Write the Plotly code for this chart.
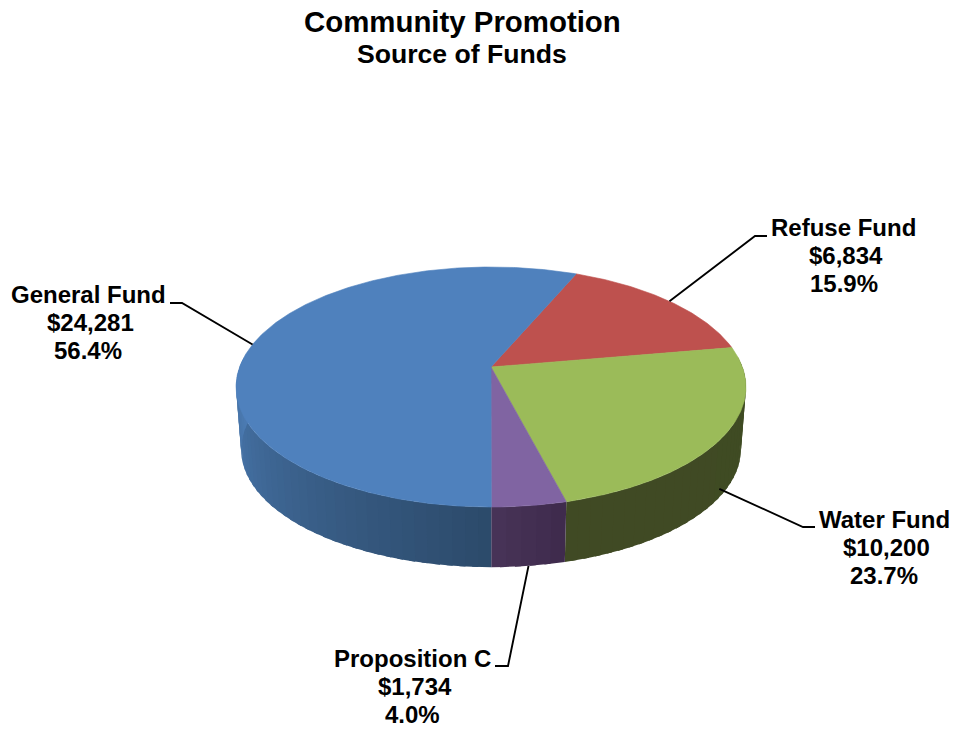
import math
import plotly.graph_objects as go

# Source-of-funds data, in pie order (clockwise from the first slice angle)
categories = ["Refuse Fund", "Water Fund", "Proposition C", "General Fund"]
amounts = [6834, 10200, 1734, 24281]
top_colors = ["#BE514E", "#9BBB59", "#8064A2", "#4F81BD"]

# Side wall shade at each end of a slice's visible arc
wall_colors = [
    ((110, 50, 48), (110, 50, 48)),
    ((63, 75, 35), (64, 74, 36)),
    ((62, 42, 76), (72, 52, 88)),
    ((44, 74, 106), (76, 124, 180)),
]

# Pie projection parameters, in page pixels
CX, CY = 491, 367
A, B, K = 251.4, 116.67, 1 / 6
WALL_DROP, WALL_SCALE = 63, 0.98
FIRST_ANGLE = 23.0

FONT = "Liberation Sans"
LABEL_SIZE = 24
INK = "#000000"


def project(theta_deg, lower=False):
    """Map a rim angle (clockwise from the back of the disc) to page pixels."""
    t = math.radians(theta_deg)
    x, y = math.sin(t), math.cos(t)
    w = 1 + K * y
    s = WALL_SCALE if lower else 1.0
    return (CX + s * A * x / w, CY + (WALL_DROP if lower else 0) - s * B * y / w)


def arc(start, end, step=1.0, lower=False):
    n = max(2, int(abs(end - start) / step) + 1)
    return [project(start + (end - start) * i / (n - 1), lower) for i in range(n)]


total = sum(amounts)
spans = []
angle = FIRST_ANGLE
for value in amounts:
    sweep = 360 * value / total
    spans.append((angle, angle + sweep))
    angle += sweep

fig = go.Figure()


def add_polygon(points, color, edge=0.6):
    xs = [p[0] for p in points] + [points[0][0]]
    ys = [p[1] for p in points] + [points[0][1]]
    fig.add_trace(go.Scatter(x=xs, y=ys, mode="lines", fill="toself", fillcolor=color,
                             line=dict(color=color, width=edge), hoverinfo="skip",
                             showlegend=False))


# Side wall: shaded strips along the visible front of the disc, each one
# overlapping the next so no seam shows between them
for (start, end), (c0, c1) in zip(spans, wall_colors):
    lo, hi = max(start, 85.0), min(end, 275.0)
    if hi <= lo:
        continue
    strips = max(1, int((hi - lo) / 2.5))
    for i in range(strips):
        a0 = lo + (hi - lo) * i / strips
        a1 = lo + (hi - lo) * (i + 1) / strips
        f = (i + 0.5) / strips
        color = "rgb({},{},{})".format(*[round(c0[j] + (c1[j] - c0[j]) * f) for j in range(3)])
        overlap_end = min(a1 + 1.2, hi)
        add_polygon(arc(a0, overlap_end, 0.5) + arc(overlap_end, a0, 0.5, lower=True), color, edge=0)

# Top face of each slice
for (start, end), color in zip(spans, top_colors):
    add_polygon([(CX, CY)] + arc(start, end, 0.5), color)

# Label layout: centre x, first line y, and the elbow of each leader line
label_pos = [(843.5, 227), (884, 519), (412.5, 658), (88, 294)]
leader_elbows = [[(755, 236), (767, 236)], [(803, 527), (815, 527)],
                 [(508, 666), (495, 666)], [(182, 303), (170, 303)]]
# Leaders start on the top rim for rear slices, on the wall for front ones
leader_on_wall = [0.0, 0.85, 1.0, 0.0]
LINE_STEP = 28
AMOUNT_SHIFT = 2.5

annotations = []
for i, name in enumerate(categories):
    mid = sum(spans[i]) / 2
    tx, ty = project(mid)
    bx, by = project(mid, lower=True)
    f = leader_on_wall[i]
    sx, sy = tx + (bx - tx) * f, ty + (by - ty) * f
    pts = [(sx, sy)] + leader_elbows[i]
    fig.add_trace(go.Scatter(x=[p[0] for p in pts], y=[p[1] for p in pts], mode="lines",
                             line=dict(color=INK, width=1.9), hoverinfo="skip",
                             showlegend=False))
    lines = [name, f"${amounts[i]:,}", f"{100 * amounts[i] / total:.1f}%"]
    cx, y0 = label_pos[i]
    for j, text in enumerate(lines):
        dx = AMOUNT_SHIFT if j == 1 else 0
        annotations.append(dict(x=cx + dx, y=y0 + j * LINE_STEP, text=f"<b>{text}</b>", showarrow=False,
                                xanchor="center", yanchor="middle",
                                font=dict(family=FONT, size=LABEL_SIZE, color=INK)))

annotations.append(dict(x=462, y=21, text="<b>Community Promotion</b>", showarrow=False,
                        font=dict(family=FONT, size=29.4, color=INK)))
annotations.append(dict(x=462, y=54, text="<b>Source of Funds</b>", showarrow=False,
                        font=dict(family=FONT, size=26.6, color=INK)))

fig.update_layout(
    width=956, height=730, margin=dict(l=0, r=0, t=0, b=0),
    paper_bgcolor="white", plot_bgcolor="white", showlegend=False,
    xaxis=dict(range=[0, 956], visible=False, fixedrange=True),
    yaxis=dict(range=[730, 0], visible=False, fixedrange=True),
    annotations=annotations,
)

fig.write_html("out.html", config={"displayModeBar": False})
